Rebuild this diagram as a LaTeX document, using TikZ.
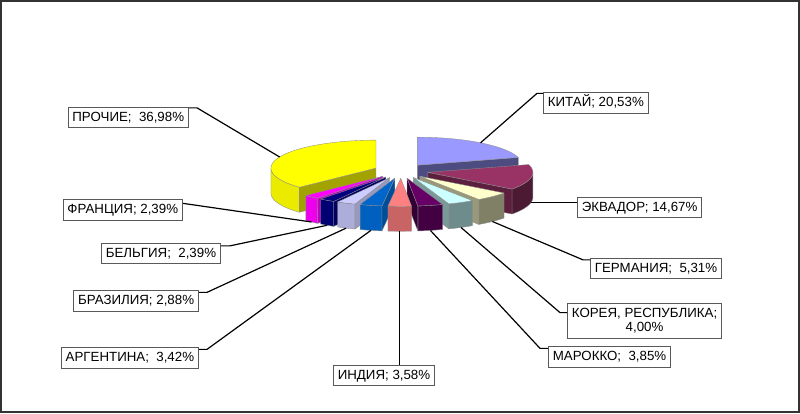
\documentclass[tikz,border=0pt]{standalone}
\usepackage{fontspec}
\setmainfont{Liberation Sans}
\usetikzlibrary{calc}
\definecolor{cKit}{HTML}{9999FF}\definecolor{cKitS}{HTML}{4C4C80}
\definecolor{cEkv}{HTML}{993366}\definecolor{cEkvW}{HTML}{4D1A33}\definecolor{cEkvS}{HTML}{5C1F3D}
\definecolor{cGer}{HTML}{FFFFCC}\definecolor{cGerW}{HTML}{808066}\definecolor{cGerS}{HTML}{99997A}
\definecolor{cKor}{HTML}{CCFFFF}\definecolor{cKorW}{HTML}{6E8C8C}\definecolor{cKorS}{HTML}{7A9999}
\definecolor{cMar}{HTML}{660066}\definecolor{cMarW}{HTML}{420042}\definecolor{cMarS}{HTML}{330033}
\definecolor{cInd}{HTML}{FF8080}\definecolor{cIndW}{HTML}{C86464}\definecolor{cIndS}{HTML}{A05050}
\definecolor{cArg}{HTML}{0066CC}\definecolor{cArgW}{HTML}{0060C0}\definecolor{cArgS}{HTML}{004D99}
\definecolor{cBra}{HTML}{CCCCFF}\definecolor{cBraW}{HTML}{ADADD9}\definecolor{cBraS}{HTML}{9999BF}
\definecolor{cBel}{HTML}{000080}\definecolor{cBelW}{HTML}{000073}\definecolor{cBelS}{HTML}{000060}
\definecolor{cFra}{HTML}{FF00FF}\definecolor{cFraW}{HTML}{EE00EE}\definecolor{cFraS}{HTML}{BF00BF}
\definecolor{cPro}{HTML}{FFFF00}\definecolor{cProW}{HTML}{EBEB00}\definecolor{cProS}{HTML}{A3A300}
\def\Cx{401}\def\Cy{171}\def\RR{105}\def\rr{28}\def\hh{25}\def\ee{0.26}
\newcommand\pieslice[7]{%
  \pgfmathsetmacro\slcM{(#1+#2)/2}%
  \pgfmathsetmacro\slcAx{\Cx+\RR*\ee*sin(\slcM)}%
  \pgfmathsetmacro\slcAy{\Cy-\rr*\ee*cos(\slcM)}%
  \pgfmathtruncatemacro\slcW{and(#1<270,#2>90)}%
  \ifnum\slcW=1
    \pgfmathsetmacro\slcA{max(#1,90)}%
    \pgfmathsetmacro\slcB{min(#2,270)}%
    \filldraw[slcedge,fill=#4] plot[domain=\slcA:\slcB,samples=30,variable=\t] ({\slcAx+\RR*sin(\t)},{\slcAy-\rr*cos(\t)}) -- plot[domain=\slcB:\slcA,samples=30,variable=\t] ({\slcAx+\RR*sin(\t)},{\slcAy+\hh-\rr*cos(\t)}) -- cycle;
  \fi
  \pgfmathtruncatemacro\slcS{sin(#1)<-0.01}%
  \ifnum\slcS=1
    \filldraw[slcedge,fill=#5] (\slcAx,\slcAy) -- ({\slcAx+\RR*sin(#1)},{\slcAy-\rr*cos(#1)}) -- ++(0,\hh) -- (\slcAx,{\slcAy+\hh}) -- cycle;
  \fi
  \pgfmathtruncatemacro\slcE{sin(#2)>0.01}%
  \ifnum\slcE=1
    \filldraw[slcedge,fill=#5] (\slcAx,\slcAy) -- ({\slcAx+\RR*sin(#2)},{\slcAy-\rr*cos(#2)}) -- ++(0,\hh) -- (\slcAx,{\slcAy+\hh}) -- cycle;
  \fi
  \filldraw[slcedge,fill=#3] (\slcAx,\slcAy) -- plot[domain=#1:#2,samples=60,variable=\t] ({\slcAx+\RR*sin(\t)},{\slcAy-\rr*cos(\t)}) -- cycle;
  \coordinate (#6) at ({\slcAx+\RR*sin(\slcM)},{\slcAy-\rr*cos(\slcM)+#7});
}
\begin{document}
\begin{tikzpicture}[x=1pt,y=-1pt,
  slcedge/.style={draw=black!45,line width=0.35pt,line join=round},
  lbl/.style={draw=black!65,line width=0.8pt,fill=white,inner xsep=4.5pt,inner ysep=0pt,
    text height=10pt,text depth=3pt,minimum height=20.5pt,font=\fontsize{13.3}{15}\selectfont},
  lbl2/.style={draw=black!65,line width=0.8pt,fill=white,inner xsep=4.5pt,inner ysep=3pt,
    align=center,minimum height=35pt,font=\fontsize{13.3}{14.5}\selectfont},
  leader/.style={draw=black,line width=1.2pt,line join=round}]
\useasboundingbox (0,0) rectangle (800,413);
\fill[white] (0,0) rectangle (800,413);
\draw[line width=1.5pt,black!80] (0.75,0.75) rectangle (799,412);
% slices, back to front
\pieslice{226.872}{360}{cPro}{cProW}{cProS}{pPro}{0}
\pieslice{0}{73.908}{cKit}{cKitS}{cKitS}{pKit}{0}
\pieslice{73.908}{126.72}{cEkv}{cEkvW}{cEkvS}{pEkv}{\hh}
\pieslice{126.72}{145.836}{cGer}{cGerW}{cGerS}{pGer}{\hh}
\pieslice{145.836}{160.236}{cKor}{cKorW}{cKorS}{pKor}{\hh}
\pieslice{160.236}{174.096}{cMar}{cMarW}{cMarS}{pMar}{\hh}
\pieslice{218.268}{226.872}{cFra}{cFraW}{cFraS}{pFra}{\hh}
\pieslice{209.664}{218.268}{cBel}{cBelW}{cBelS}{pBel}{\hh}
\pieslice{199.296}{209.664}{cBra}{cBraW}{cBraS}{pBra}{\hh}
\pieslice{186.984}{199.296}{cArg}{cArgW}{cArgS}{pArg}{\hh}
\pieslice{174.096}{186.984}{cInd}{cIndW}{cIndS}{pInd}{\hh}
% labels
\node[lbl,anchor=east] (lP) at (189,117.5) {ПРОЧИЕ;\ \ 36,98\%};
\node[lbl,anchor=west] (lK) at (543,103) {КИТАЙ; 20,53\%};
\node[lbl,anchor=west] (lE) at (577,207.5) {ЭКВАДОР; 14,67\%};
\node[lbl,anchor=west] (lG) at (590,268.5) {ГЕРМАНИЯ;\ \ 5,31\%};
\node[lbl2,anchor=west] (lKo) at (567,320.5) {КОРЕЯ, РЕСПУБЛИКА;\\4,00\%};
\node[lbl,anchor=west] (lM) at (548,357) {МАРОККО;\ \ 3,85\%};
\node[lbl] (lI) at (384,375.5) {ИНДИЯ; 3,58\%};
\node[lbl,anchor=east] (lA) at (199,358) {АРГЕНТИНА;\ \ 3,42\%};
\node[lbl,anchor=east] (lBr) at (199,301) {БРАЗИЛИЯ; 2,88\%};
\node[lbl,anchor=east] (lBe) at (221,253.5) {БЕЛЬГИЯ;\ \ 2,39\%};
\node[lbl,anchor=east] (lF) at (183,210) {ФРАНЦИЯ; 2,39\%};
% leaders
\draw[leader] ($(lP.north east)+(0,1)$) -- ++(8,0) -- (pPro);
\draw[leader] ($(lK.north west)+(0,1)$) -- ++(-6,0) -- (pKit);
\draw[leader] (pEkv) -- (pEkv -| lE.west);
\draw[leader] ($(lG.north west)+(0,2)$) -- ++(-7,0) -- (pGer);
\draw[leader] ($(lKo.north west)+(0,10)$) -- ++(-7,0) -- (pKor);
\draw[leader] ($(lM.north west)+(0,2)$) -- ++(-8,0) -- (pMar);
\draw[leader] (pInd) -- (pInd |- lI.north);
\draw[leader] ($(lA.north east)+(0,2)$) -- ++(8,0) -- (pArg);
\draw[leader] ($(lBr.north east)+(0,2)$) -- ++(8,0) -- (pBra);
\draw[leader] ($(lBe.north east)+(0,3)$) -- ++(9,0) -- (pBel);
\draw[leader] ($(lF.north east)+(0,4)$) -- (pFra);
\end{tikzpicture}
\end{document}
